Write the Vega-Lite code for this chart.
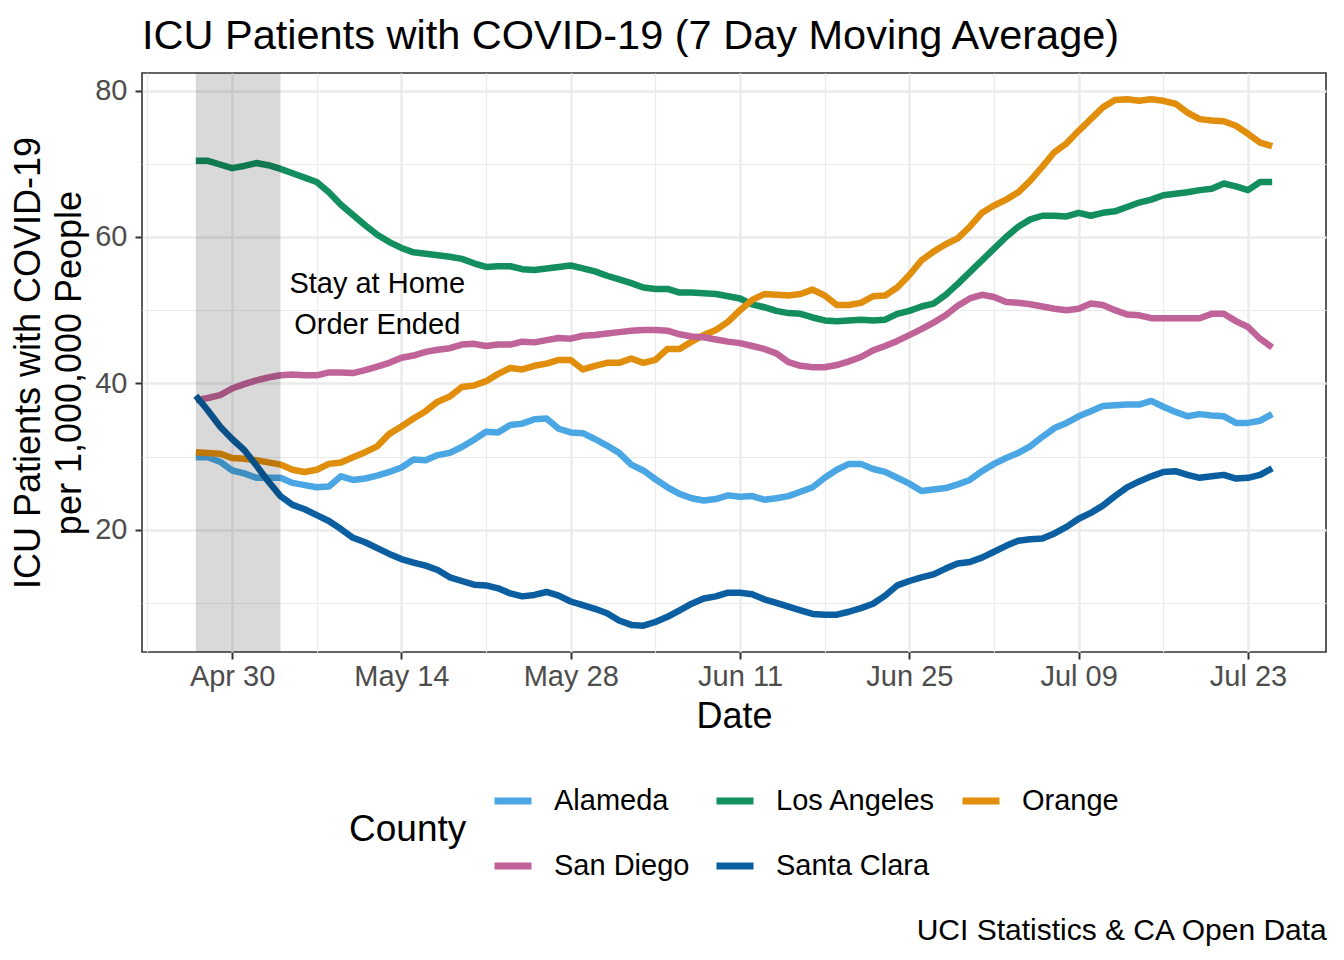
{
  "$schema": "https://vega.github.io/schema/vega-lite/v6.json",
  "background": "white",
  "padding": {"left": 9, "top": 14, "right": 14, "bottom": 8},
  "title": {"text": "UCI Statistics & CA Open Data", "orient": "bottom", "anchor": "end", "frame": "bounds", "fontSize": 30, "font": "Liberation Sans", "fontWeight": "normal", "color": "#000000", "offset": 35},
  "datasets": {
    "icu": [
      {"date":"2020-04-27","county":"Alameda","value":29.9},{"date":"2020-04-28","county":"Alameda","value":29.9},{"date":"2020-04-29","county":"Alameda","value":29.3},{"date":"2020-04-30","county":"Alameda","value":28.1},{"date":"2020-05-01","county":"Alameda","value":27.7},{"date":"2020-05-02","county":"Alameda","value":27.1},{"date":"2020-05-03","county":"Alameda","value":27.1},{"date":"2020-05-04","county":"Alameda","value":27.1},{"date":"2020-05-05","county":"Alameda","value":26.4},{"date":"2020-05-06","county":"Alameda","value":26.1},
      {"date":"2020-05-07","county":"Alameda","value":25.8},{"date":"2020-05-08","county":"Alameda","value":25.9},{"date":"2020-05-09","county":"Alameda","value":27.3},{"date":"2020-05-10","county":"Alameda","value":26.8},{"date":"2020-05-11","county":"Alameda","value":27.0},{"date":"2020-05-12","county":"Alameda","value":27.4},{"date":"2020-05-13","county":"Alameda","value":27.9},{"date":"2020-05-14","county":"Alameda","value":28.5},{"date":"2020-05-15","county":"Alameda","value":29.6},{"date":"2020-05-16","county":"Alameda","value":29.5},
      {"date":"2020-05-17","county":"Alameda","value":30.2},{"date":"2020-05-18","county":"Alameda","value":30.5},{"date":"2020-05-19","county":"Alameda","value":31.3},{"date":"2020-05-20","county":"Alameda","value":32.3},{"date":"2020-05-21","county":"Alameda","value":33.4},{"date":"2020-05-22","county":"Alameda","value":33.3},{"date":"2020-05-23","county":"Alameda","value":34.3},{"date":"2020-05-24","county":"Alameda","value":34.5},{"date":"2020-05-25","county":"Alameda","value":35.1},{"date":"2020-05-26","county":"Alameda","value":35.2},
      {"date":"2020-05-27","county":"Alameda","value":33.8},{"date":"2020-05-28","county":"Alameda","value":33.3},{"date":"2020-05-29","county":"Alameda","value":33.2},{"date":"2020-05-30","county":"Alameda","value":32.4},{"date":"2020-05-31","county":"Alameda","value":31.5},{"date":"2020-06-01","county":"Alameda","value":30.5},{"date":"2020-06-02","county":"Alameda","value":28.9},{"date":"2020-06-03","county":"Alameda","value":28.1},{"date":"2020-06-04","county":"Alameda","value":26.9},{"date":"2020-06-05","county":"Alameda","value":25.8},
      {"date":"2020-06-06","county":"Alameda","value":24.9},{"date":"2020-06-07","county":"Alameda","value":24.3},{"date":"2020-06-08","county":"Alameda","value":24.0},{"date":"2020-06-09","county":"Alameda","value":24.2},{"date":"2020-06-10","county":"Alameda","value":24.7},{"date":"2020-06-11","county":"Alameda","value":24.5},{"date":"2020-06-12","county":"Alameda","value":24.6},{"date":"2020-06-13","county":"Alameda","value":24.1},{"date":"2020-06-14","county":"Alameda","value":24.3},{"date":"2020-06-15","county":"Alameda","value":24.6},
      {"date":"2020-06-16","county":"Alameda","value":25.2},{"date":"2020-06-17","county":"Alameda","value":25.8},{"date":"2020-06-18","county":"Alameda","value":27.1},{"date":"2020-06-19","county":"Alameda","value":28.2},{"date":"2020-06-20","county":"Alameda","value":29.0},{"date":"2020-06-21","county":"Alameda","value":29.0},{"date":"2020-06-22","county":"Alameda","value":28.3},{"date":"2020-06-23","county":"Alameda","value":27.9},{"date":"2020-06-24","county":"Alameda","value":27.1},{"date":"2020-06-25","county":"Alameda","value":26.3},
      {"date":"2020-06-26","county":"Alameda","value":25.3},{"date":"2020-06-27","county":"Alameda","value":25.5},{"date":"2020-06-28","county":"Alameda","value":25.7},{"date":"2020-06-29","county":"Alameda","value":26.2},{"date":"2020-06-30","county":"Alameda","value":26.8},{"date":"2020-07-01","county":"Alameda","value":28.0},{"date":"2020-07-02","county":"Alameda","value":29.0},{"date":"2020-07-03","county":"Alameda","value":29.8},{"date":"2020-07-04","county":"Alameda","value":30.5},{"date":"2020-07-05","county":"Alameda","value":31.4},
      {"date":"2020-07-06","county":"Alameda","value":32.7},{"date":"2020-07-07","county":"Alameda","value":33.9},{"date":"2020-07-08","county":"Alameda","value":34.6},{"date":"2020-07-09","county":"Alameda","value":35.5},{"date":"2020-07-10","county":"Alameda","value":36.2},{"date":"2020-07-11","county":"Alameda","value":36.9},{"date":"2020-07-12","county":"Alameda","value":37.0},{"date":"2020-07-13","county":"Alameda","value":37.1},{"date":"2020-07-14","county":"Alameda","value":37.1},{"date":"2020-07-15","county":"Alameda","value":37.6},
      {"date":"2020-07-16","county":"Alameda","value":36.8},{"date":"2020-07-17","county":"Alameda","value":36.1},{"date":"2020-07-18","county":"Alameda","value":35.5},{"date":"2020-07-19","county":"Alameda","value":35.8},{"date":"2020-07-20","county":"Alameda","value":35.6},{"date":"2020-07-21","county":"Alameda","value":35.5},{"date":"2020-07-22","county":"Alameda","value":34.6},{"date":"2020-07-23","county":"Alameda","value":34.6},{"date":"2020-07-24","county":"Alameda","value":34.9},{"date":"2020-07-25","county":"Alameda","value":35.8},

      {"date":"2020-04-27","county":"Los Angeles","value":70.4},{"date":"2020-04-28","county":"Los Angeles","value":70.4},{"date":"2020-04-29","county":"Los Angeles","value":69.9},{"date":"2020-04-30","county":"Los Angeles","value":69.4},{"date":"2020-05-01","county":"Los Angeles","value":69.7},{"date":"2020-05-02","county":"Los Angeles","value":70.1},{"date":"2020-05-03","county":"Los Angeles","value":69.8},{"date":"2020-05-04","county":"Los Angeles","value":69.3},{"date":"2020-05-05","county":"Los Angeles","value":68.7},{"date":"2020-05-06","county":"Los Angeles","value":68.1},
      {"date":"2020-05-07","county":"Los Angeles","value":67.5},{"date":"2020-05-08","county":"Los Angeles","value":66.1},{"date":"2020-05-09","county":"Los Angeles","value":64.4},{"date":"2020-05-10","county":"Los Angeles","value":63.0},{"date":"2020-05-11","county":"Los Angeles","value":61.6},{"date":"2020-05-12","county":"Los Angeles","value":60.3},{"date":"2020-05-13","county":"Los Angeles","value":59.3},{"date":"2020-05-14","county":"Los Angeles","value":58.5},{"date":"2020-05-15","county":"Los Angeles","value":57.9},{"date":"2020-05-16","county":"Los Angeles","value":57.7},
      {"date":"2020-05-17","county":"Los Angeles","value":57.5},{"date":"2020-05-18","county":"Los Angeles","value":57.3},{"date":"2020-05-19","county":"Los Angeles","value":57.0},{"date":"2020-05-20","county":"Los Angeles","value":56.4},{"date":"2020-05-21","county":"Los Angeles","value":55.9},{"date":"2020-05-22","county":"Los Angeles","value":56.0},{"date":"2020-05-23","county":"Los Angeles","value":56.0},{"date":"2020-05-24","county":"Los Angeles","value":55.6},{"date":"2020-05-25","county":"Los Angeles","value":55.5},{"date":"2020-05-26","county":"Los Angeles","value":55.7},
      {"date":"2020-05-27","county":"Los Angeles","value":55.9},{"date":"2020-05-28","county":"Los Angeles","value":56.1},{"date":"2020-05-29","county":"Los Angeles","value":55.7},{"date":"2020-05-30","county":"Los Angeles","value":55.3},{"date":"2020-05-31","county":"Los Angeles","value":54.7},{"date":"2020-06-01","county":"Los Angeles","value":54.2},{"date":"2020-06-02","county":"Los Angeles","value":53.7},{"date":"2020-06-03","county":"Los Angeles","value":53.1},{"date":"2020-06-04","county":"Los Angeles","value":52.9},{"date":"2020-06-05","county":"Los Angeles","value":52.9},
      {"date":"2020-06-06","county":"Los Angeles","value":52.4},{"date":"2020-06-07","county":"Los Angeles","value":52.4},{"date":"2020-06-08","county":"Los Angeles","value":52.3},{"date":"2020-06-09","county":"Los Angeles","value":52.2},{"date":"2020-06-10","county":"Los Angeles","value":51.9},{"date":"2020-06-11","county":"Los Angeles","value":51.6},{"date":"2020-06-12","county":"Los Angeles","value":50.8},{"date":"2020-06-13","county":"Los Angeles","value":50.4},{"date":"2020-06-14","county":"Los Angeles","value":49.9},{"date":"2020-06-15","county":"Los Angeles","value":49.6},
      {"date":"2020-06-16","county":"Los Angeles","value":49.5},{"date":"2020-06-17","county":"Los Angeles","value":49.0},{"date":"2020-06-18","county":"Los Angeles","value":48.6},{"date":"2020-06-19","county":"Los Angeles","value":48.5},{"date":"2020-06-20","county":"Los Angeles","value":48.6},{"date":"2020-06-21","county":"Los Angeles","value":48.7},{"date":"2020-06-22","county":"Los Angeles","value":48.6},{"date":"2020-06-23","county":"Los Angeles","value":48.7},{"date":"2020-06-24","county":"Los Angeles","value":49.5},{"date":"2020-06-25","county":"Los Angeles","value":49.9},
      {"date":"2020-06-26","county":"Los Angeles","value":50.5},{"date":"2020-06-27","county":"Los Angeles","value":50.9},{"date":"2020-06-28","county":"Los Angeles","value":52.1},{"date":"2020-06-29","county":"Los Angeles","value":53.6},{"date":"2020-06-30","county":"Los Angeles","value":55.2},{"date":"2020-07-01","county":"Los Angeles","value":56.8},{"date":"2020-07-02","county":"Los Angeles","value":58.4},{"date":"2020-07-03","county":"Los Angeles","value":60.0},{"date":"2020-07-04","county":"Los Angeles","value":61.4},{"date":"2020-07-05","county":"Los Angeles","value":62.4},
      {"date":"2020-07-06","county":"Los Angeles","value":62.9},{"date":"2020-07-07","county":"Los Angeles","value":62.9},{"date":"2020-07-08","county":"Los Angeles","value":62.8},{"date":"2020-07-09","county":"Los Angeles","value":63.3},{"date":"2020-07-10","county":"Los Angeles","value":62.9},{"date":"2020-07-11","county":"Los Angeles","value":63.3},{"date":"2020-07-12","county":"Los Angeles","value":63.5},{"date":"2020-07-13","county":"Los Angeles","value":64.1},{"date":"2020-07-14","county":"Los Angeles","value":64.7},{"date":"2020-07-15","county":"Los Angeles","value":65.1},
      {"date":"2020-07-16","county":"Los Angeles","value":65.7},{"date":"2020-07-17","county":"Los Angeles","value":65.9},{"date":"2020-07-18","county":"Los Angeles","value":66.1},{"date":"2020-07-19","county":"Los Angeles","value":66.4},{"date":"2020-07-20","county":"Los Angeles","value":66.6},{"date":"2020-07-21","county":"Los Angeles","value":67.3},{"date":"2020-07-22","county":"Los Angeles","value":66.9},{"date":"2020-07-23","county":"Los Angeles","value":66.4},{"date":"2020-07-24","county":"Los Angeles","value":67.5},{"date":"2020-07-25","county":"Los Angeles","value":67.5},

      {"date":"2020-04-27","county":"Orange","value":30.6},{"date":"2020-04-28","county":"Orange","value":30.5},{"date":"2020-04-29","county":"Orange","value":30.4},{"date":"2020-04-30","county":"Orange","value":29.8},{"date":"2020-05-01","county":"Orange","value":29.7},{"date":"2020-05-02","county":"Orange","value":29.5},{"date":"2020-05-03","county":"Orange","value":29.2},{"date":"2020-05-04","county":"Orange","value":28.9},{"date":"2020-05-05","county":"Orange","value":28.2},{"date":"2020-05-06","county":"Orange","value":27.9},
      {"date":"2020-05-07","county":"Orange","value":28.2},{"date":"2020-05-08","county":"Orange","value":29.0},{"date":"2020-05-09","county":"Orange","value":29.2},{"date":"2020-05-10","county":"Orange","value":29.9},{"date":"2020-05-11","county":"Orange","value":30.6},{"date":"2020-05-12","county":"Orange","value":31.4},{"date":"2020-05-13","county":"Orange","value":33.1},{"date":"2020-05-14","county":"Orange","value":34.1},{"date":"2020-05-15","county":"Orange","value":35.2},{"date":"2020-05-16","county":"Orange","value":36.2},
      {"date":"2020-05-17","county":"Orange","value":37.5},{"date":"2020-05-18","county":"Orange","value":38.2},{"date":"2020-05-19","county":"Orange","value":39.5},{"date":"2020-05-20","county":"Orange","value":39.7},{"date":"2020-05-21","county":"Orange","value":40.3},{"date":"2020-05-22","county":"Orange","value":41.3},{"date":"2020-05-23","county":"Orange","value":42.1},{"date":"2020-05-24","county":"Orange","value":41.9},{"date":"2020-05-25","county":"Orange","value":42.4},{"date":"2020-05-26","county":"Orange","value":42.7},
      {"date":"2020-05-27","county":"Orange","value":43.2},{"date":"2020-05-28","county":"Orange","value":43.2},{"date":"2020-05-29","county":"Orange","value":41.9},{"date":"2020-05-30","county":"Orange","value":42.4},{"date":"2020-05-31","county":"Orange","value":42.8},{"date":"2020-06-01","county":"Orange","value":42.8},{"date":"2020-06-02","county":"Orange","value":43.4},{"date":"2020-06-03","county":"Orange","value":42.8},{"date":"2020-06-04","county":"Orange","value":43.2},{"date":"2020-06-05","county":"Orange","value":44.7},
      {"date":"2020-06-06","county":"Orange","value":44.7},{"date":"2020-06-07","county":"Orange","value":45.7},{"date":"2020-06-08","county":"Orange","value":46.6},{"date":"2020-06-09","county":"Orange","value":47.3},{"date":"2020-06-10","county":"Orange","value":48.4},{"date":"2020-06-11","county":"Orange","value":50.0},{"date":"2020-06-12","county":"Orange","value":51.4},{"date":"2020-06-13","county":"Orange","value":52.2},{"date":"2020-06-14","county":"Orange","value":52.1},{"date":"2020-06-15","county":"Orange","value":52.0},
      {"date":"2020-06-16","county":"Orange","value":52.2},{"date":"2020-06-17","county":"Orange","value":52.8},{"date":"2020-06-18","county":"Orange","value":52.0},{"date":"2020-06-19","county":"Orange","value":50.7},{"date":"2020-06-20","county":"Orange","value":50.7},{"date":"2020-06-21","county":"Orange","value":51.0},{"date":"2020-06-22","county":"Orange","value":51.9},{"date":"2020-06-23","county":"Orange","value":52.0},{"date":"2020-06-24","county":"Orange","value":53.1},{"date":"2020-06-25","county":"Orange","value":54.8},
      {"date":"2020-06-26","county":"Orange","value":56.8},{"date":"2020-06-27","county":"Orange","value":58.0},{"date":"2020-06-28","county":"Orange","value":59.0},{"date":"2020-06-29","county":"Orange","value":59.8},{"date":"2020-06-30","county":"Orange","value":61.4},{"date":"2020-07-01","county":"Orange","value":63.3},{"date":"2020-07-02","county":"Orange","value":64.3},{"date":"2020-07-03","county":"Orange","value":65.1},{"date":"2020-07-04","county":"Orange","value":66.1},{"date":"2020-07-05","county":"Orange","value":67.7},
      {"date":"2020-07-06","county":"Orange","value":69.6},{"date":"2020-07-07","county":"Orange","value":71.6},{"date":"2020-07-08","county":"Orange","value":72.8},{"date":"2020-07-09","county":"Orange","value":74.5},{"date":"2020-07-10","county":"Orange","value":76.1},{"date":"2020-07-11","county":"Orange","value":77.7},{"date":"2020-07-12","county":"Orange","value":78.7},{"date":"2020-07-13","county":"Orange","value":78.8},{"date":"2020-07-14","county":"Orange","value":78.6},{"date":"2020-07-15","county":"Orange","value":78.8},
      {"date":"2020-07-16","county":"Orange","value":78.6},{"date":"2020-07-17","county":"Orange","value":78.2},{"date":"2020-07-18","county":"Orange","value":77.0},{"date":"2020-07-19","county":"Orange","value":76.1},{"date":"2020-07-20","county":"Orange","value":75.9},{"date":"2020-07-21","county":"Orange","value":75.8},{"date":"2020-07-22","county":"Orange","value":75.2},{"date":"2020-07-23","county":"Orange","value":74.1},{"date":"2020-07-24","county":"Orange","value":72.9},{"date":"2020-07-25","county":"Orange","value":72.4},

      {"date":"2020-04-27","county":"San Diego","value":37.7},{"date":"2020-04-28","county":"San Diego","value":38.0},{"date":"2020-04-29","county":"San Diego","value":38.4},{"date":"2020-04-30","county":"San Diego","value":39.3},{"date":"2020-05-01","county":"San Diego","value":39.9},{"date":"2020-05-02","county":"San Diego","value":40.4},{"date":"2020-05-03","county":"San Diego","value":40.8},{"date":"2020-05-04","county":"San Diego","value":41.1},{"date":"2020-05-05","county":"San Diego","value":41.2},{"date":"2020-05-06","county":"San Diego","value":41.1},
      {"date":"2020-05-07","county":"San Diego","value":41.1},{"date":"2020-05-08","county":"San Diego","value":41.5},{"date":"2020-05-09","county":"San Diego","value":41.5},{"date":"2020-05-10","county":"San Diego","value":41.4},{"date":"2020-05-11","county":"San Diego","value":41.8},{"date":"2020-05-12","county":"San Diego","value":42.3},{"date":"2020-05-13","county":"San Diego","value":42.8},{"date":"2020-05-14","county":"San Diego","value":43.5},{"date":"2020-05-15","county":"San Diego","value":43.8},{"date":"2020-05-16","county":"San Diego","value":44.3},
      {"date":"2020-05-17","county":"San Diego","value":44.6},{"date":"2020-05-18","county":"San Diego","value":44.8},{"date":"2020-05-19","county":"San Diego","value":45.3},{"date":"2020-05-20","county":"San Diego","value":45.4},{"date":"2020-05-21","county":"San Diego","value":45.1},{"date":"2020-05-22","county":"San Diego","value":45.3},{"date":"2020-05-23","county":"San Diego","value":45.3},{"date":"2020-05-24","county":"San Diego","value":45.7},{"date":"2020-05-25","county":"San Diego","value":45.6},{"date":"2020-05-26","county":"San Diego","value":45.9},
      {"date":"2020-05-27","county":"San Diego","value":46.2},{"date":"2020-05-28","county":"San Diego","value":46.1},{"date":"2020-05-29","county":"San Diego","value":46.5},{"date":"2020-05-30","county":"San Diego","value":46.6},{"date":"2020-05-31","county":"San Diego","value":46.8},{"date":"2020-06-01","county":"San Diego","value":47.0},{"date":"2020-06-02","county":"San Diego","value":47.2},{"date":"2020-06-03","county":"San Diego","value":47.3},{"date":"2020-06-04","county":"San Diego","value":47.3},{"date":"2020-06-05","county":"San Diego","value":47.2},
      {"date":"2020-06-06","county":"San Diego","value":46.7},{"date":"2020-06-07","county":"San Diego","value":46.4},{"date":"2020-06-08","county":"San Diego","value":46.3},{"date":"2020-06-09","county":"San Diego","value":46.0},{"date":"2020-06-10","county":"San Diego","value":45.7},{"date":"2020-06-11","county":"San Diego","value":45.5},{"date":"2020-06-12","county":"San Diego","value":45.1},{"date":"2020-06-13","county":"San Diego","value":44.7},{"date":"2020-06-14","county":"San Diego","value":44.1},{"date":"2020-06-15","county":"San Diego","value":42.9},
      {"date":"2020-06-16","county":"San Diego","value":42.4},{"date":"2020-06-17","county":"San Diego","value":42.2},{"date":"2020-06-18","county":"San Diego","value":42.2},{"date":"2020-06-19","county":"San Diego","value":42.5},{"date":"2020-06-20","county":"San Diego","value":43.0},{"date":"2020-06-21","county":"San Diego","value":43.6},{"date":"2020-06-22","county":"San Diego","value":44.5},{"date":"2020-06-23","county":"San Diego","value":45.1},{"date":"2020-06-24","county":"San Diego","value":45.8},{"date":"2020-06-25","county":"San Diego","value":46.6},
      {"date":"2020-06-26","county":"San Diego","value":47.4},{"date":"2020-06-27","county":"San Diego","value":48.3},{"date":"2020-06-28","county":"San Diego","value":49.3},{"date":"2020-06-29","county":"San Diego","value":50.6},{"date":"2020-06-30","county":"San Diego","value":51.6},{"date":"2020-07-01","county":"San Diego","value":52.1},{"date":"2020-07-02","county":"San Diego","value":51.8},{"date":"2020-07-03","county":"San Diego","value":51.1},{"date":"2020-07-04","county":"San Diego","value":51.0},{"date":"2020-07-05","county":"San Diego","value":50.8},
      {"date":"2020-07-06","county":"San Diego","value":50.5},{"date":"2020-07-07","county":"San Diego","value":50.2},{"date":"2020-07-08","county":"San Diego","value":50.0},{"date":"2020-07-09","county":"San Diego","value":50.2},{"date":"2020-07-10","county":"San Diego","value":50.9},{"date":"2020-07-11","county":"San Diego","value":50.7},{"date":"2020-07-12","county":"San Diego","value":50.0},{"date":"2020-07-13","county":"San Diego","value":49.4},{"date":"2020-07-14","county":"San Diego","value":49.3},{"date":"2020-07-15","county":"San Diego","value":48.9},
      {"date":"2020-07-16","county":"San Diego","value":48.9},{"date":"2020-07-17","county":"San Diego","value":48.9},{"date":"2020-07-18","county":"San Diego","value":48.9},{"date":"2020-07-19","county":"San Diego","value":48.9},{"date":"2020-07-20","county":"San Diego","value":49.5},{"date":"2020-07-21","county":"San Diego","value":49.5},{"date":"2020-07-22","county":"San Diego","value":48.5},{"date":"2020-07-23","county":"San Diego","value":47.7},{"date":"2020-07-24","county":"San Diego","value":46.1},{"date":"2020-07-25","county":"San Diego","value":44.9},

      {"date":"2020-04-27","county":"Santa Clara","value":38.3},{"date":"2020-04-28","county":"Santa Clara","value":36.3},{"date":"2020-04-29","county":"Santa Clara","value":34.1},{"date":"2020-04-30","county":"Santa Clara","value":32.4},{"date":"2020-05-01","county":"Santa Clara","value":30.9},{"date":"2020-05-02","county":"Santa Clara","value":28.8},{"date":"2020-05-03","county":"Santa Clara","value":26.6},{"date":"2020-05-04","county":"Santa Clara","value":24.6},{"date":"2020-05-05","county":"Santa Clara","value":23.4},{"date":"2020-05-06","county":"Santa Clara","value":22.8},
      {"date":"2020-05-07","county":"Santa Clara","value":22.0},{"date":"2020-05-08","county":"Santa Clara","value":21.2},{"date":"2020-05-09","county":"Santa Clara","value":20.1},{"date":"2020-05-10","county":"Santa Clara","value":18.9},{"date":"2020-05-11","county":"Santa Clara","value":18.3},{"date":"2020-05-12","county":"Santa Clara","value":17.5},{"date":"2020-05-13","county":"Santa Clara","value":16.7},{"date":"2020-05-14","county":"Santa Clara","value":16.0},{"date":"2020-05-15","county":"Santa Clara","value":15.5},{"date":"2020-05-16","county":"Santa Clara","value":15.1},
      {"date":"2020-05-17","county":"Santa Clara","value":14.5},{"date":"2020-05-18","county":"Santa Clara","value":13.5},{"date":"2020-05-19","county":"Santa Clara","value":13.0},{"date":"2020-05-20","county":"Santa Clara","value":12.5},{"date":"2020-05-21","county":"Santa Clara","value":12.4},{"date":"2020-05-22","county":"Santa Clara","value":12.0},{"date":"2020-05-23","county":"Santa Clara","value":11.3},{"date":"2020-05-24","county":"Santa Clara","value":10.9},{"date":"2020-05-25","county":"Santa Clara","value":11.1},{"date":"2020-05-26","county":"Santa Clara","value":11.5},
      {"date":"2020-05-27","county":"Santa Clara","value":11.0},{"date":"2020-05-28","county":"Santa Clara","value":10.2},{"date":"2020-05-29","county":"Santa Clara","value":9.7},{"date":"2020-05-30","county":"Santa Clara","value":9.2},{"date":"2020-05-31","county":"Santa Clara","value":8.6},{"date":"2020-06-01","county":"Santa Clara","value":7.6},{"date":"2020-06-02","county":"Santa Clara","value":7.0},{"date":"2020-06-03","county":"Santa Clara","value":6.9},{"date":"2020-06-04","county":"Santa Clara","value":7.4},{"date":"2020-06-05","county":"Santa Clara","value":8.1},
      {"date":"2020-06-06","county":"Santa Clara","value":9.0},{"date":"2020-06-07","county":"Santa Clara","value":9.9},{"date":"2020-06-08","county":"Santa Clara","value":10.6},{"date":"2020-06-09","county":"Santa Clara","value":10.9},{"date":"2020-06-10","county":"Santa Clara","value":11.4},{"date":"2020-06-11","county":"Santa Clara","value":11.4},{"date":"2020-06-12","county":"Santa Clara","value":11.2},{"date":"2020-06-13","county":"Santa Clara","value":10.5},{"date":"2020-06-14","county":"Santa Clara","value":10.0},{"date":"2020-06-15","county":"Santa Clara","value":9.5},
      {"date":"2020-06-16","county":"Santa Clara","value":9.0},{"date":"2020-06-17","county":"Santa Clara","value":8.5},{"date":"2020-06-18","county":"Santa Clara","value":8.4},{"date":"2020-06-19","county":"Santa Clara","value":8.4},{"date":"2020-06-20","county":"Santa Clara","value":8.8},{"date":"2020-06-21","county":"Santa Clara","value":9.3},{"date":"2020-06-22","county":"Santa Clara","value":9.9},{"date":"2020-06-23","county":"Santa Clara","value":11.0},{"date":"2020-06-24","county":"Santa Clara","value":12.4},{"date":"2020-06-25","county":"Santa Clara","value":13.0},
      {"date":"2020-06-26","county":"Santa Clara","value":13.5},{"date":"2020-06-27","county":"Santa Clara","value":13.9},{"date":"2020-06-28","county":"Santa Clara","value":14.7},{"date":"2020-06-29","county":"Santa Clara","value":15.4},{"date":"2020-06-30","county":"Santa Clara","value":15.6},{"date":"2020-07-01","county":"Santa Clara","value":16.2},{"date":"2020-07-02","county":"Santa Clara","value":17.0},{"date":"2020-07-03","county":"Santa Clara","value":17.8},{"date":"2020-07-04","county":"Santa Clara","value":18.5},{"date":"2020-07-05","county":"Santa Clara","value":18.7},
      {"date":"2020-07-06","county":"Santa Clara","value":18.8},{"date":"2020-07-07","county":"Santa Clara","value":19.5},{"date":"2020-07-08","county":"Santa Clara","value":20.4},{"date":"2020-07-09","county":"Santa Clara","value":21.5},{"date":"2020-07-10","county":"Santa Clara","value":22.3},{"date":"2020-07-11","county":"Santa Clara","value":23.3},{"date":"2020-07-12","county":"Santa Clara","value":24.6},{"date":"2020-07-13","county":"Santa Clara","value":25.8},{"date":"2020-07-14","county":"Santa Clara","value":26.6},{"date":"2020-07-15","county":"Santa Clara","value":27.3},
      {"date":"2020-07-16","county":"Santa Clara","value":27.9},{"date":"2020-07-17","county":"Santa Clara","value":28.0},{"date":"2020-07-18","county":"Santa Clara","value":27.5},{"date":"2020-07-19","county":"Santa Clara","value":27.1},{"date":"2020-07-20","county":"Santa Clara","value":27.3},{"date":"2020-07-21","county":"Santa Clara","value":27.5},{"date":"2020-07-22","county":"Santa Clara","value":27.0},{"date":"2020-07-23","county":"Santa Clara","value":27.1},{"date":"2020-07-24","county":"Santa Clara","value":27.5},{"date":"2020-07-25","county":"Santa Clara","value":28.4}
    ],
    "period": [{"start": "2020-04-27", "end": "2020-05-04"}],
    "note": [{"date": "2020-05-12", "value": 53.6, "label": "Stay at Home\nOrder Ended"}]
  },
  "vconcat": [
    {
      "width": 1184,
      "height": 579,
      "title": {"text": "ICU Patients with COVID-19 (7 Day Moving Average)", "anchor": "start", "frame": "group", "fontSize": 41.5, "font": "Liberation Sans", "fontWeight": "normal", "color": "#000000", "offset": 16},
      "encoding": {
        "x": {
          "field": "date", "type": "temporal",
          "scale": {"type": "utc", "domain": [{"year": 2020, "month": 4, "date": 22, "hours": 13, "minutes": 12, "utc": true}, {"year": 2020, "month": 7, "date": 29, "hours": 10, "minutes": 48, "utc": true}]},
          "axis": {
            "title": "Date",
            "values": [
              {"year": 2020, "month": 4, "date": 23, "utc": true}, {"year": 2020, "month": 4, "date": 30, "utc": true},
              {"year": 2020, "month": 5, "date": 7, "utc": true}, {"year": 2020, "month": 5, "date": 14, "utc": true},
              {"year": 2020, "month": 5, "date": 21, "utc": true}, {"year": 2020, "month": 5, "date": 28, "utc": true},
              {"year": 2020, "month": 6, "date": 4, "utc": true}, {"year": 2020, "month": 6, "date": 11, "utc": true},
              {"year": 2020, "month": 6, "date": 18, "utc": true}, {"year": 2020, "month": 6, "date": 25, "utc": true},
              {"year": 2020, "month": 7, "date": 2, "utc": true}, {"year": 2020, "month": 7, "date": 9, "utc": true},
              {"year": 2020, "month": 7, "date": 16, "utc": true}, {"year": 2020, "month": 7, "date": 23, "utc": true}
            ],
            "labelExpr": "round((+datum.value - 1588204800000) / 604800000) % 2 === 0 ? utcFormat(datum.value, '%b %d') : ''",
            "gridWidth": {"condition": {"test": "round((+datum.value - 1588204800000) / 604800000) % 2 === 0", "value": 2.4}, "value": 1.2},
            "tickOpacity": {"condition": {"test": "round((+datum.value - 1588204800000) / 604800000) % 2 === 0", "value": 1}, "value": 0},
            "labelOverlap": false, "labelFlush": false,
            "labelPadding": 3, "titlePadding": 8
          }
        },
        "y": {
          "field": "value", "type": "quantitative",
          "scale": {"domain": [3.3, 82.4], "nice": false, "zero": false},
          "axis": {
            "title": ["ICU Patients with COVID-19", "per 1,000,000 People"],
            "values": [10, 20, 30, 40, 50, 60, 70, 80],
            "labelExpr": "datum.value % 20 === 0 ? datum.label : ''",
            "gridWidth": {"condition": {"test": "datum.value % 20 === 0", "value": 2.4}, "value": 1.2},
            "tickOpacity": {"condition": {"test": "datum.value % 20 === 0", "value": 1}, "value": 0},
            "labelPadding": 8, "titlePadding": 6, "titleLineHeight": 41
          }
        }
      },
      "layer": [
        {
          "data": {"name": "icu"},
          "mark": {"type": "line", "strokeWidth": 6.5, "strokeCap": "butt", "strokeJoin": "round"},
          "encoding": {
            "color": {
              "field": "county", "type": "nominal", "title": "County",
              "scale": {"domain": ["Alameda", "Los Angeles", "Orange", "San Diego", "Santa Clara"], "range": ["#4AA7E3", "#138F5F", "#E08E0B", "#C06398", "#0B5EA0"]}
            }
          }
        },
        {
          "data": {"name": "period"},
          "mark": {"type": "rect", "color": "#000000", "opacity": 0.15},
          "encoding": {
            "x": {"field": "start", "type": "temporal"},
            "x2": {"field": "end"},
            "y": null
          }
        },
        {
          "data": {"name": "note"},
          "mark": {"type": "text", "fontSize": 29, "font": "Liberation Sans", "color": "#000000", "align": "center", "baseline": "middle", "lineBreak": "\n", "lineHeight": 41},
          "encoding": {
            "text": {"field": "label"}
          }
        }
      ]
    }
  ],
  "config": {
    "font": "Liberation Sans",
    "view": {"stroke": "#333333", "strokeWidth": 1.6},
    "axis": {
      "domain": false,
      "labelFont": "Liberation Sans", "labelFontSize": 29, "labelColor": "#4D4D4D",
      "titleFont": "Liberation Sans", "titleFontSize": 36, "titleFontWeight": "normal", "titleColor": "#000000",
      "tickColor": "#333333", "tickSize": 7, "tickWidth": 2,
      "gridColor": "#EBEBEB"
    },
    "legend": {
      "orient": "bottom", "direction": "horizontal", "columns": 3, "titleOrient": "left",
      "titleFont": "Liberation Sans", "titleFontSize": 37, "titleFontWeight": "normal", "titleColor": "#000000",
      "titleAnchor": "middle", "titleBaseline": "middle", "titlePadding": 24,
      "labelFont": "Liberation Sans", "labelFontSize": 29, "labelColor": "#000000", "labelOffset": 19,
      "symbolType": "stroke", "symbolStrokeWidth": 7, "symbolSize": 1369,
      "columnPadding": 12, "rowPadding": 28, "offset": 44,
      "layout": {"anchor": "middle", "bottom": {"anchor": "middle"}}
    }
  }
}
